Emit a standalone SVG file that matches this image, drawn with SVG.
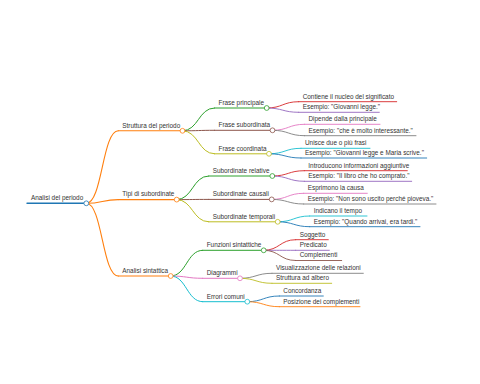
<svg xmlns="http://www.w3.org/2000/svg" width="480" height="384" viewBox="0 0 480 384">
<style>
text{font-family:"Liberation Sans",Arial,sans-serif;font-size:6.4px;fill:#333}
path,line{fill:none;stroke-linecap:round}
circle{fill:#fff;stroke-width:0.8}
.l0{stroke-width:1.4}.l1{stroke-width:1.1}.l2{stroke-width:1}.l3{stroke-width:0.9}
.c0{stroke:#1f77b4}.c1{stroke:#ff7f0e}.c2{stroke:#2ca02c}.c3{stroke:#d62728}.c4{stroke:#9467bd}
.c5{stroke:#8c564b}.c6{stroke:#e377c2}.c7{stroke:#7f7f7f}.c8{stroke:#bcbd22}.c9{stroke:#17becf}
</style>
<rect width="480" height="384" fill="#fff"/>
<g id="connectors">
<path class="l1 c1" d="M86.3,203.3 C102.3,203.3 102.3,130.8 118.3,130.8"/>
<path class="l1 c1" d="M86.3,203.3 C102.3,203.3 102.3,199.6 118.3,199.6"/>
<path class="l1 c1" d="M86.3,203.3 C102.3,203.3 102.3,276 118.3,276"/>
<path class="l2 c2" d="M182.5,130.8 C198.5,130.8 198.5,108 214.5,108"/>
<path class="l2 c5" d="M182.5,130.8 C198.5,130.8 198.5,130.3 214.5,130.3"/>
<path class="l2 c8" d="M182.5,130.8 C198.5,130.8 198.5,153.8 214.5,153.8"/>
<path class="l2 c2" d="M176.7,199.6 C192.7,199.6 192.7,176 208.7,176"/>
<path class="l2 c5" d="M176.7,199.6 C192.7,199.6 192.7,199.4 208.7,199.4"/>
<path class="l2 c8" d="M176.7,199.6 C192.7,199.6 192.7,221.8 208.7,221.8"/>
<path class="l2 c2" d="M170.7,276 C186.7,276 186.7,250.3 202.7,250.3"/>
<path class="l2 c6" d="M170.7,276 C186.7,276 186.7,278.3 202.7,278.3"/>
<path class="l2 c9" d="M170.7,276 C186.7,276 186.7,301.7 202.7,301.7"/>
<path class="l3 c3" d="M266.7,108 C282.7,108 282.7,101.7 298.7,101.7"/>
<path class="l3 c4" d="M266.7,108 C282.7,108 282.7,112.3 298.7,112.3"/>
<path class="l3 c6" d="M272.5,130.3 C288.5,130.3 288.5,124.3 304.5,124.3"/>
<path class="l3 c7" d="M272.5,130.3 C288.5,130.3 288.5,135.7 304.5,135.7"/>
<path class="l3 c9" d="M269,153.8 C285,153.8 285,148.3 301,148.3"/>
<path class="l3 c0" d="M269,153.8 C285,153.8 285,158 301,158"/>
<path class="l3 c3" d="M272.3,176 C288.3,176 288.3,170.7 304.3,170.7"/>
<path class="l3 c4" d="M272.3,176 C288.3,176 288.3,181.3 304.3,181.3"/>
<path class="l3 c6" d="M271.7,199.4 C287.7,199.4 287.7,193.3 303.7,193.3"/>
<path class="l3 c7" d="M271.7,199.4 C287.7,199.4 287.7,204 303.7,204"/>
<path class="l3 c9" d="M277.7,221.8 C293.7,221.8 293.7,216 309.7,216"/>
<path class="l3 c0" d="M277.7,221.8 C293.7,221.8 293.7,226.7 309.7,226.7"/>
<path class="l3 c3" d="M263.7,250.3 C279.7,250.3 279.7,239.7 295.7,239.7"/>
<path class="l3 c4" d="M263.7,250.3 C279.7,250.3 279.7,250.3 295.7,250.3"/>
<path class="l3 c5" d="M263.7,250.3 C279.7,250.3 279.7,260.5 295.7,260.5"/>
<path class="l3 c7" d="M240,278.3 C256,278.3 256,273.3 272,273.3"/>
<path class="l3 c8" d="M240,278.3 C256,278.3 256,283.3 272,283.3"/>
<path class="l3 c0" d="M247.3,301.7 C263.3,301.7 263.3,296 279.3,296"/>
<path class="l3 c1" d="M247.3,301.7 C263.3,301.7 263.3,306.7 279.3,306.7"/>
</g>
<g id="n-root"><line class="l0 c0" x1="27" y1="203.3" x2="86.3" y2="203.3"/><circle class="c0" cx="86.3" cy="203.3" r="2.4"/><text x="31" y="200.1">Analisi del periodo</text></g>
<g id="n-struttura"><line class="l1 c1" x1="118.3" y1="130.8" x2="182.5" y2="130.8"/><circle class="c1" cx="182.5" cy="130.8" r="2.4"/><text x="122.3" y="127.6">Struttura del periodo</text></g>
<g id="n-tipi"><line class="l1 c1" x1="118.3" y1="199.6" x2="176.7" y2="199.6"/><circle class="c1" cx="176.7" cy="199.6" r="2.4"/><text x="122.3" y="196.4">Tipi di subordinate</text></g>
<g id="n-analisi"><line class="l1 c1" x1="118.3" y1="276" x2="170.7" y2="276"/><circle class="c1" cx="170.7" cy="276" r="2.4"/><text x="122.3" y="272.8">Analisi sintattica</text></g>
<g id="n-fp"><line class="l2 c2" x1="214.5" y1="108" x2="266.7" y2="108"/><circle class="c2" cx="266.7" cy="108" r="2.4"/><text x="218.5" y="104.8">Frase principale</text></g>
<g id="n-fs"><line class="l2 c5" x1="214.5" y1="130.3" x2="272.5" y2="130.3"/><circle class="c5" cx="272.5" cy="130.3" r="2.4"/><text x="218.5" y="127.1">Frase subordinata</text></g>
<g id="n-fc"><line class="l2 c8" x1="214.5" y1="153.8" x2="269" y2="153.8"/><circle class="c8" cx="269" cy="153.8" r="2.4"/><text x="218.5" y="150.6">Frase coordinata</text></g>
<g id="n-sr"><line class="l2 c2" x1="208.7" y1="176" x2="272.3" y2="176"/><circle class="c2" cx="272.3" cy="176" r="2.4"/><text x="212.7" y="172.8">Subordinate relative</text></g>
<g id="n-sc"><line class="l2 c5" x1="208.7" y1="199.4" x2="271.7" y2="199.4"/><circle class="c5" cx="271.7" cy="199.4" r="2.4"/><text x="212.7" y="196.2">Subordinate causali</text></g>
<g id="n-st"><line class="l2 c8" x1="208.7" y1="221.8" x2="277.7" y2="221.8"/><circle class="c8" cx="277.7" cy="221.8" r="2.4"/><text x="212.7" y="218.6">Subordinate temporali</text></g>
<g id="n-fn"><line class="l2 c2" x1="202.7" y1="250.3" x2="263.7" y2="250.3"/><circle class="c2" cx="263.7" cy="250.3" r="2.4"/><text x="206.7" y="247.1">Funzioni sintattiche</text></g>
<g id="n-dg"><line class="l2 c6" x1="202.7" y1="278.3" x2="240" y2="278.3"/><circle class="c6" cx="240" cy="278.3" r="2.4"/><text x="206.7" y="275.1">Diagrammi</text></g>
<g id="n-ec"><line class="l2 c9" x1="202.7" y1="301.7" x2="247.3" y2="301.7"/><circle class="c9" cx="247.3" cy="301.7" r="2.4"/><text x="206.7" y="298.5">Errori comuni</text></g>
<g id="n-fp1"><line class="l3 c3" x1="298.7" y1="101.7" x2="396.7" y2="101.7"/><text x="302.7" y="98.5">Contiene il nucleo del significato</text></g>
<g id="n-fp2"><line class="l3 c4" x1="298.7" y1="112.3" x2="379.3" y2="112.3"/><text x="302.7" y="109.1">Esempio: "Giovanni legge."</text></g>
<g id="n-fs1"><line class="l3 c6" x1="304.5" y1="124.3" x2="380" y2="124.3"/><text x="308.5" y="121.1">Dipende dalla principale</text></g>
<g id="n-fs2"><line class="l3 c7" x1="304.5" y1="135.7" x2="416" y2="135.7"/><text x="308.5" y="132.5">Esempio: "che è molto interessante."</text></g>
<g id="n-fc1"><line class="l3 c9" x1="301" y1="148.3" x2="370" y2="148.3"/><text x="305" y="145.1">Unisce due o più frasi</text></g>
<g id="n-fc2"><line class="l3 c0" x1="301" y1="158" x2="426.7" y2="158"/><text x="305" y="154.8">Esempio: "Giovanni legge e Maria scrive."</text></g>
<g id="n-sr1"><line class="l3 c3" x1="304.3" y1="170.7" x2="407.3" y2="170.7"/><text x="308.3" y="167.5">Introducono informazioni aggiuntive</text></g>
<g id="n-sr2"><line class="l3 c4" x1="304.3" y1="181.3" x2="411.7" y2="181.3"/><text x="308.3" y="178.1">Esempio: "Il libro che ho comprato."</text></g>
<g id="n-sc1"><line class="l3 c6" x1="303.7" y1="193.3" x2="367.3" y2="193.3"/><text x="307.7" y="190.1">Esprimono la causa</text></g>
<g id="n-sc2"><line class="l3 c7" x1="303.7" y1="204" x2="436" y2="204"/><text x="307.7" y="200.8">Esempio: "Non sono uscito perché pioveva."</text></g>
<g id="n-st1"><line class="l3 c9" x1="309.7" y1="216" x2="367" y2="216"/><text x="313.7" y="212.8">Indicano il tempo</text></g>
<g id="n-st2"><line class="l3 c0" x1="309.7" y1="226.7" x2="420" y2="226.7"/><text x="313.7" y="223.5">Esempio: "Quando arrivai, era tardi."</text></g>
<g id="n-fn1"><line class="l3 c3" x1="295.7" y1="239.7" x2="328.3" y2="239.7"/><text x="299.7" y="236.5">Soggetto</text></g>
<g id="n-fn2"><line class="l3 c4" x1="295.7" y1="250.3" x2="329.3" y2="250.3"/><text x="299.7" y="247.1">Predicato</text></g>
<g id="n-fn3"><line class="l3 c5" x1="295.7" y1="260.5" x2="341.7" y2="260.5"/><text x="299.7" y="257.3">Complementi</text></g>
<g id="n-dg1"><line class="l3 c7" x1="272" y1="273.3" x2="363.3" y2="273.3"/><text x="276" y="270.1">Visualizzazione delle relazioni</text></g>
<g id="n-dg2"><line class="l3 c8" x1="272" y1="283.3" x2="331.7" y2="283.3"/><text x="276" y="280.1">Struttura ad albero</text></g>
<g id="n-ec1"><line class="l3 c0" x1="279.3" y1="296" x2="323.3" y2="296"/><text x="283.3" y="292.8">Concordanza</text></g>
<g id="n-ec2"><line class="l3 c1" x1="279.3" y1="306.7" x2="360" y2="306.7"/><text x="283.3" y="303.5">Posizione dei complementi</text></g>
</svg>
